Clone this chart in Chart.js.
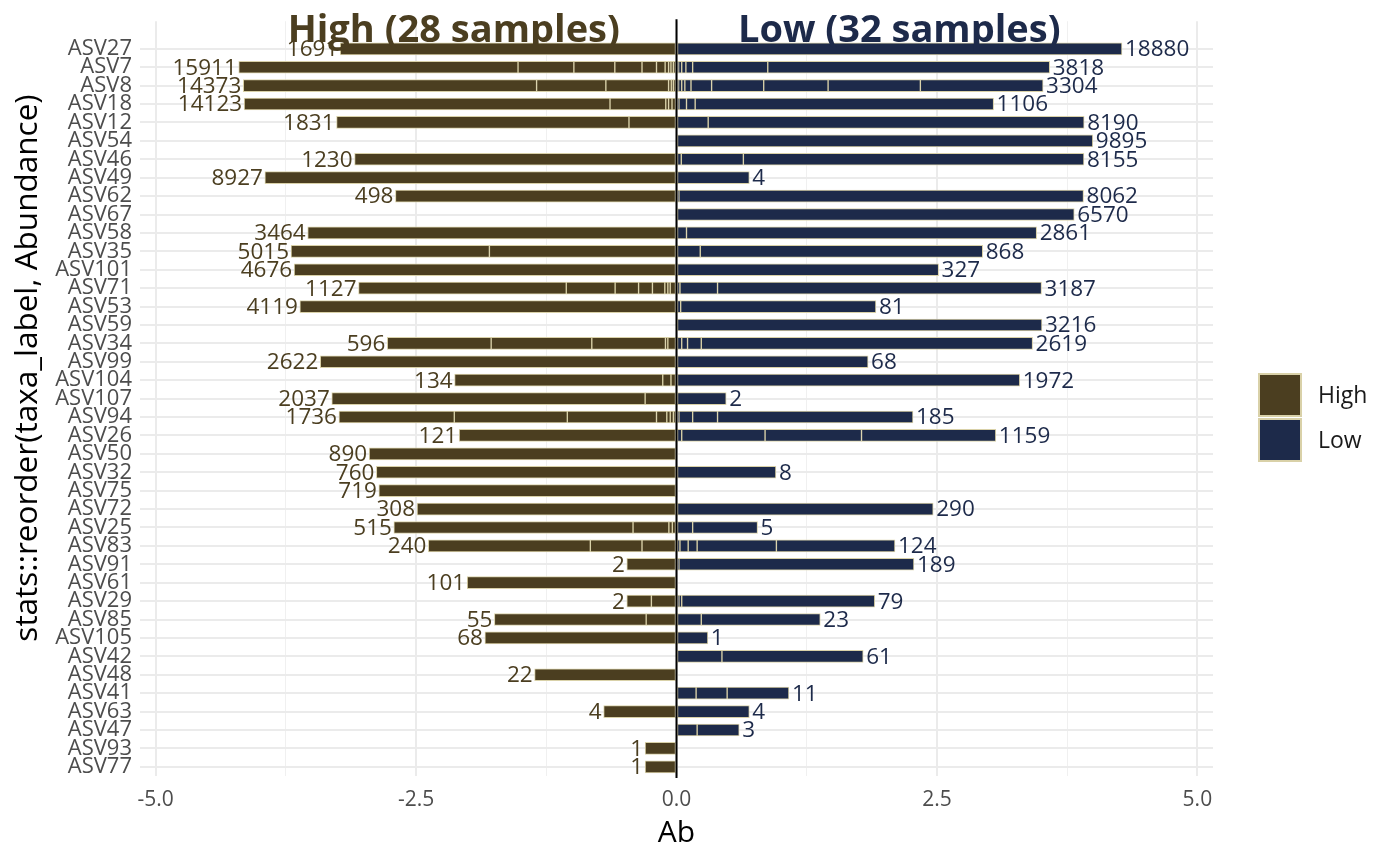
<!DOCTYPE html>
<html>
<head>
<meta charset="utf-8">
<script src="https://cdn.jsdelivr.net/npm/chart.js@4.4.0/dist/chart.umd.min.js"></script>
<style>
html,body{margin:0;padding:0;background:#fff;}
#wrap{width:1400px;height:866px;position:relative;}
</style>
</head>
<body>
<div id="wrap"><canvas id="c"></canvas></div>
<script>
// ---------- data ----------
const categories = ['ASV27','ASV7','ASV8','ASV18','ASV12','ASV54','ASV46','ASV49','ASV62','ASV67',
  'ASV58','ASV35','ASV101','ASV71','ASV53','ASV59','ASV34','ASV99','ASV104','ASV107',
  'ASV94','ASV26','ASV50','ASV32','ASV75','ASV72','ASV25','ASV83','ASV91','ASV61',
  'ASV29','ASV85','ASV105','ASV42','ASV48','ASV41','ASV63','ASV47','ASV93','ASV77'];

// abundance labels shown at bar ends
const highTotals = [1691,15911,14373,14123,1831,null,1230,8927,498,null,
  3464,5015,4676,1127,4119,null,596,2622,134,2037,
  1736,121,890,760,719,308,515,240,2,101,
  2,55,68,null,22,null,4,null,1,1];
const lowTotals = [18880,3818,3304,1106,8190,9895,8155,4,8062,6570,
  2861,868,327,3187,81,3216,2619,68,1972,2,
  185,1159,null,8,null,290,5,124,189,null,
  79,23,1,61,null,11,4,3,null,null];

// segment boundaries (Ab units, from 0 outward; last value = bar end)
const highCuts = [
  [3.228],
  [0.030,0.053,0.076,0.109,0.192,0.331,0.592,0.985,1.521,4.202],
  [0.030,0.050,0.076,0.678,1.343,4.158],
  [0.043,0.076,0.103,0.638,4.150],
  [0.456,3.263],
  [],
  [3.090],
  [3.951],
  [2.698],
  [],
  [3.540],
  [1.796,3.700],
  [3.670],
  [0.060,0.083,0.112,0.231,0.364,0.589,1.058,3.052],
  [3.615],
  [],
  [0.083,0.106,0.813,1.779,2.776],
  [3.419],
  [0.053,0.132,2.130],
  [0.301,3.309],
  [0.030,0.060,0.093,0.192,1.048,2.133,3.240],
  [2.086],
  [2.950],
  [2.881],
  [2.857],
  [2.490],
  [0.040,0.073,0.417,2.713],
  [0.331,0.827,2.382],
  [0.477],
  [2.009],
  [0.241,0.477],
  [0.291,1.748],
  [1.839],
  [],
  [1.362],
  [],
  [0.699],
  [],
  [0.301],
  [0.301]
];
const lowCuts = [
  [4.276],
  [0.020,0.050,0.090,0.155,0.876,3.582],
  [0.020,0.050,0.080,0.139,0.337,0.837,1.455,2.341,3.519],
  [0.023,0.096,0.179,3.044],
  [0.304,3.913],
  [3.996],
  [0.046,0.642,3.911],
  [0.699],
  [0.023,3.907],
  [3.818],
  [0.096,3.457],
  [0.228,2.939],
  [2.516],
  [0.033,0.394,3.504],
  [0.040,1.914],
  [3.508],
  [0.050,0.106,0.238,3.418],
  [1.839],
  [3.295],
  [0.477],
  [0.023,0.155,0.394,2.270],
  [0.050,0.850,1.776,3.065],
  [],
  [0.954],
  [],
  [2.464],
  [0.155,0.778],
  [0.033,0.112,0.198,0.959,2.097],
  [0.023,2.279],
  [],
  [0.023,0.050,1.903],
  [0.238,1.380],
  [0.301],
  [0.436,1.792],
  [],
  [0.188,0.486,1.079],
  [0.699],
  [0.198,0.602],
  [],
  []
];

const xTickValues = [-5, -2.5, 0, 2.5, 5];
const xMinorValues = [-3.75, -1.25, 1.25, 3.75];
const groupNames = ['High', 'Low'];
const groupTitles = ['High (28 samples)', 'Low (32 samples)'];
const yAxisTitle = 'stats::reorder(taxa_label, Abundance)';
const xAxisTitle = 'Ab';

// ---------- styles ----------
const FILL = { High: '#4b3e20', Low: '#1d2a4a' };
const EDGE = '#d9d1a8';
const FONT = "'Open Sans', 'Noto Sans', sans-serif";

// y labels: an empty top slot holds the group titles
const yLabels = [''].concat(categories);

function buildDatasets(cuts, sign, color, name) {
  const maxN = Math.max(...cuts.map(c => c.length));
  const out = [];
  for (let k = 0; k < maxN; k++) {
    const data = [null];
    cuts.forEach(c => {
      if (k < c.length) {
        const a = k === 0 ? 0 : c[k - 1];
        data.push([sign * a, sign * c[k]]);
      } else data.push(null);
    });
    out.push({
      label: name + ' ' + k,
      data: data,
      backgroundColor: color,
      borderColor: EDGE,
      borderWidth: 1,
      borderSkipped: false,
      grouped: false,
      barThickness: 12
    });
  }
  return out;
}

const datasets = buildDatasets(highCuts, -1, FILL.High, 'High')
  .concat(buildDatasets(lowCuts, 1, FILL.Low, 'Low'));

const overlay = {
  id: 'overlay',
  afterDatasetsDraw(chart) {
    const ctx = chart.ctx, xs = chart.scales.x, ys = chart.scales.y, ca = chart.chartArea;
    ctx.save();
    // zero line
    const x0 = xs.getPixelForValue(0);
    ctx.strokeStyle = '#000';
    ctx.lineWidth = 2;
    ctx.beginPath();
    ctx.moveTo(x0, ca.top - 2);
    ctx.lineTo(x0, ca.bottom + 2);
    ctx.stroke();
    // group titles, centred at half of the largest bar on each side
    const maxEnd = Math.max(...lowCuts.concat(highCuts).map(c => c.length ? c[c.length - 1] : 0));
    const yt = ys.getPixelForValue(0);
    ctx.font = 'bold 38px ' + FONT;
    ctx.textAlign = 'center';
    ctx.textBaseline = 'middle';
    ctx.fillStyle = FILL.High;
    ctx.fillText(groupTitles[0], xs.getPixelForValue(-maxEnd / 2), yt + 1);
    ctx.fillStyle = FILL.Low;
    ctx.fillText(groupTitles[1], xs.getPixelForValue(maxEnd / 2), yt + 1);
    // value labels
    ctx.font = '22.5px ' + FONT;
    categories.forEach((c, i) => {
      const y = ys.getPixelForValue(i + 1);
      if (highTotals[i] != null && highCuts[i].length) {
        ctx.fillStyle = FILL.High;
        ctx.textAlign = 'right';
        ctx.fillText(String(highTotals[i]), xs.getPixelForValue(-highCuts[i][highCuts[i].length - 1]) - 2, y + 1);
      }
      if (lowTotals[i] != null && lowCuts[i].length) {
        ctx.fillStyle = FILL.Low;
        ctx.textAlign = 'left';
        ctx.fillText(String(lowTotals[i]), xs.getPixelForValue(lowCuts[i][lowCuts[i].length - 1]) + 3, y + 1);
      }
    });
    ctx.restore();
  },
  afterDraw(chart) {
    const ctx = chart.ctx;
    ctx.save();
    // y axis title
    ctx.save();
    ctx.translate(28, 368);
    ctx.rotate(-Math.PI / 2);
    ctx.fillStyle = '#000';
    ctx.font = '31.5px ' + FONT;
    ctx.textAlign = 'center';
    ctx.textBaseline = 'middle';
    ctx.fillText(yAxisTitle, 0, 0);
    ctx.restore();
    // legend
    const lx = 1258, ly = 373, s = 44;
    groupNames.forEach((g, i) => {
      const y = ly + i * (s + 1);
      ctx.fillStyle = FILL[g];
      ctx.fillRect(lx, y, s, s);
      ctx.strokeStyle = EDGE;
      ctx.lineWidth = 2;
      ctx.strokeRect(lx + 1, y + 1, s - 2, s - 2);
      ctx.fillStyle = '#1a1a1a';
      ctx.font = '23px ' + FONT;
      ctx.textAlign = 'left';
      ctx.textBaseline = 'middle';
      ctx.fillText(g, lx + s + 16, y + s / 2 + 1);
    });
    ctx.restore();
  }
};

new Chart(document.getElementById('c'), {
  type: 'bar',
  data: { labels: yLabels, datasets: datasets },
  options: {
    indexAxis: 'y',
    responsive: true,
    maintainAspectRatio: false,
    animation: false,
    devicePixelRatio: 1,
    layout: { padding: { left: 4, right: 187, top: 16, bottom: 11 } },
    plugins: { legend: { display: false }, tooltip: { enabled: false } },
    scales: {
      x: {
        type: 'linear',
        min: -5.15,
        max: 5.15,
        afterBuildTicks(scale) {
          scale.ticks = xTickValues.concat(xMinorValues).sort((a, b) => a - b).map(v => ({ value: v }));
        },
        afterFit(scale) { scale.height = 79; },
        border: { display: false },
        grid: {
          drawTicks: false,
          color: ctx => (ctx.tick && xMinorValues.includes(ctx.tick.value)) ? '#f0f0f0' : '#ebebeb',
          lineWidth: ctx => (ctx.tick && xMinorValues.includes(ctx.tick.value)) ? 1 : 2
        },
        ticks: {
          padding: 11,
          color: '#4d4d4d',
          font: { family: FONT, size: 21 },
          callback: v => xTickValues.includes(v) ? v.toFixed(1) : ''
        },
        title: { display: true, text: xAxisTitle, color: '#000', font: { family: FONT, size: 30 }, padding: { top: 4, bottom: 4 } }
      },
      y: {
        type: 'category',
        afterFit(scale) { scale.width = 136; },
        border: { display: false },
        grid: {
          drawTicks: false,
          offset: false,
          color: ctx => (ctx.index === 0 ? 'rgba(0,0,0,0)' : '#ebebeb'),
          lineWidth: 2
        },
        ticks: {
          autoSkip: false,
          padding: 8,
          color: '#4d4d4d',
          font: { family: FONT, size: 22 }
        },
        title: { display: false }
      }
    }
  },
  plugins: [overlay]
});
</script>
</body>
</html>
